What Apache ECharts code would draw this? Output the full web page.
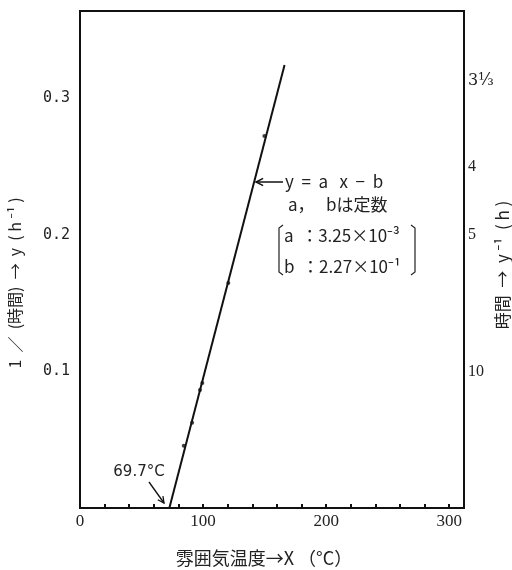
<!DOCTYPE html>
<html>
<head>
<meta charset="utf-8">
<script src="https://cdn.jsdelivr.net/npm/echarts@6/dist/echarts.min.js"></script>
<style>html,body{margin:0;padding:0;background:#fff}#c{width:512px;height:570px}</style>
</head>
<body>
<div id="c"></div>
<script>
// fitted line endpoints (x: °C, y: 1/h)
const lineX = [72.6, 166.2];
const lineY = [0, 0.3245];
// measured points on the line
const pointX = [84.3, 91.1, 97.5, 99.4, 120.5, 149.8];
const pointY = [0.0456, 0.0625, 0.0864, 0.0916, 0.1648, 0.2725];
// tick labels
const xTickValues = [0, 100, 200, 300];
const leftTickValues = [0.1, 0.2, 0.3];
const rightTickValues = [0.1, 0.2, 0.25, 0.3];
const rightTickLabels = ['10', '5', '4', '3⅓'];

const CJK = '"Noto Sans CJK JP", "Noto Sans", sans-serif';
const chart = echarts.init(document.getElementById('c'), null, {renderer: 'canvas'});

const rightMap = {};
rightTickValues.forEach((v, i) => { rightMap[Math.round(v * 100)] = rightTickLabels[i]; });

function arrowHead(x, y, ang, len) {
  const a1 = ang + Math.PI * 0.85, a2 = ang - Math.PI * 0.85;
  return [[x + len * Math.cos(a1), y + len * Math.sin(a1)], [x, y], [x + len * Math.cos(a2), y + len * Math.sin(a2)]];
}

const option = {
  backgroundColor: '#fff',
  animation: false,
  grid: {left: 80, top: 11, right: 48, bottom: 62, show: true, borderColor: '#111', borderWidth: 2, backgroundColor: 'transparent'},
  xAxis: {
    type: 'value', min: 0, max: 312, interval: 20,
    axisLine: {show: false},
    axisTick: {show: true, inside: true, length: 4, lineStyle: {color: '#111', width: 2}},
    splitLine: {show: false},
    axisLabel: {
      margin: 5, color: '#222', fontFamily: '"Liberation Serif", serif', fontSize: 17,
      formatter: v => xTickValues.indexOf(Math.round(v)) >= 0 ? String(Math.round(v)) : ''
    }
  },
  yAxis: [{
    type: 'value', min: 0, max: 0.364, interval: 0.1, position: 'left',
    axisLine: {show: false}, axisTick: {show: false}, splitLine: {show: false},
    axisLabel: {
      margin: 10, color: '#222', fontFamily: '"DejaVu Sans Mono", monospace', fontSize: 15,
      formatter: v => {
        const r = Math.round(v * 10) / 10;
        return leftTickValues.indexOf(r) >= 0 && Math.abs(v - r) < 1e-6 ? r.toFixed(1) : '';
      }
    }
  }, {
    type: 'value', min: 0, max: 0.364, interval: 0.05, position: 'right', alignTicks: false,
    axisLine: {show: false}, axisTick: {show: false}, splitLine: {show: false},
    axisLabel: {
      margin: 4, color: '#222', fontFamily: '"Liberation Serif", serif', fontSize: 16, align: 'left',
      formatter: v => {
        const k = Math.round(v * 100);
        const t = rightMap[k];
        if (!t) return '';
        return k === 30 ? '{up|' + t + '}' : t;
      },
      rich: {up: {fontFamily: '"DejaVu Serif", "Liberation Serif", serif', fontSize: 16, color: '#222', padding: [0, 0, 36, 0]}}
    }
  }],
  series: [{
    type: 'line',
    data: lineX.map((x, i) => [x, lineY[i]]),
    showSymbol: false, symbol: 'none',
    lineStyle: {color: '#111', width: 2},
    z: 3
  }, {
    type: 'scatter',
    data: pointX.map((x, i) => [x, pointY[i]]),
    symbol: 'circle', symbolSize: 4,
    itemStyle: {color: '#111'},
    z: 4
  }],
  graphic: [
    // left axis title
    {type: 'text', x: 15, y: 283, rotation: Math.PI / 2,
     style: {text: '1  ／  (時間)  →  y  ( h ⁻¹ )', font: '16px ' + CJK, fill: '#222', align: 'center', verticalAlign: 'middle'}},
    // right axis title
    {type: 'text', x: 503, y: 265, rotation: Math.PI / 2,
     style: {text: '時間  →  y ⁻¹  ( h )', font: '17px ' + CJK, fill: '#222', align: 'center', verticalAlign: 'middle'}},
    // x axis title
    {type: 'text', x: 264, y: 558,
     style: {text: '雰囲気温度→X （°C）', font: '18px ' + CJK, fill: '#222', align: 'center', verticalAlign: 'middle'}},
    // equation annotation
    {type: 'line', shape: {x1: 256, y1: 182, x2: 283, y2: 182}, style: {stroke: '#111', lineWidth: 1.5}},
    {type: 'polyline', shape: {points: arrowHead(256, 182, Math.PI, 8)}, style: {stroke: '#111', lineWidth: 1.5, fill: null}},
    {type: 'text', x: 285, y: 182,
     style: {text: 'y  =  a   x  −  b', font: '17px ' + CJK, fill: '#222', align: 'left', verticalAlign: 'middle'}},
    {type: 'text', x: 288, y: 205,
     style: {text: 'a，   bは定数', font: '17px ' + CJK, fill: '#222', align: 'left', verticalAlign: 'middle'}},
    {type: 'polyline', shape: {points: [[283, 225], [279, 228], [279, 272], [283, 275]]}, style: {stroke: '#222', lineWidth: 1.2, fill: null}},
    {type: 'polyline', shape: {points: [[411, 225], [415, 228], [415, 272], [411, 275]]}, style: {stroke: '#222', lineWidth: 1.2, fill: null}},
    {type: 'text', x: 284, y: 236,
     style: {text: 'a  ：3.25×10⁻³', font: '17px ' + CJK, fill: '#222', align: 'left', verticalAlign: 'middle'}},
    {type: 'text', x: 284, y: 267,
     style: {text: 'b  ：2.27×10⁻¹', font: '17px ' + CJK, fill: '#222', align: 'left', verticalAlign: 'middle'}},
    // intercept annotation
    {type: 'text', x: 139, y: 472,
     style: {text: '69.7°C', font: '15px "DejaVu Sans", sans-serif', fill: '#222', align: 'center', verticalAlign: 'middle'}},
    {type: 'line', shape: {x1: 149, y1: 482, x2: 164, y2: 503}, style: {stroke: '#111', lineWidth: 1.3}},
    {type: 'polyline', shape: {points: arrowHead(164, 503, Math.atan2(21, 15), 7)}, style: {stroke: '#111', lineWidth: 1.3, fill: null}}
  ]
};
chart.setOption(option);
</script>
</body>
</html>
